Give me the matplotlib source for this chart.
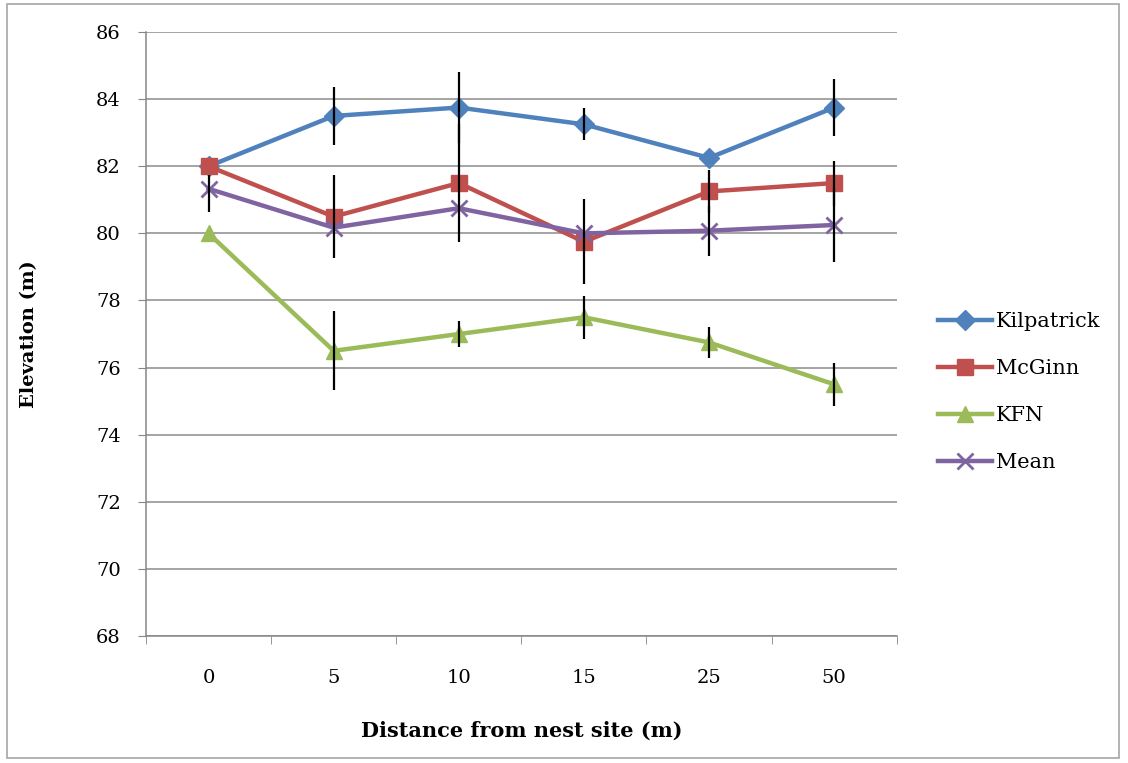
import numpy as np
import matplotlib
matplotlib.use('Agg')
import matplotlib.pyplot as plt
from matplotlib.patches import Rectangle

plt.rcParams['font.family'] = ['DejaVu Serif']

# distances (m) shown as categories
distances = ['0', '5', '10', '15', '25', '50']

kilpatrick = [82.0, 83.5, 83.75, 83.25, 82.25, 83.75]
mcginn = [82.0, 80.5, 81.5, 79.75, 81.25, 81.5]
kfn = [80.0, 76.5, 77.0, 77.5, 76.75, 75.5]
mean = [81.33, 80.17, 80.75, 80.0, 80.08, 80.25]

# error bar half-lengths
kilpatrick_err = [0, 0.87, 1.05, 0.48, 0, 0.86]
mcginn_err = [0, 1.23, 1.75, 1.27, 0.63, 0.67]
kfn_err = [0, 1.18, 0.4, 0.64, 0.47, 0.65]
mean_err_lo = [0.68, 0, 0, 0, 0.74, 1.1]
mean_err_hi = [0.4, 0, 0, 0, 0.74, 1.1]

fig = plt.figure(figsize=(11.28, 7.63), dpi=100)
ax = fig.add_axes([0.1294, 0.1664, 0.6656, 0.7916])

x = np.arange(len(distances))
series = [
    ('Kilpatrick', kilpatrick, '#4F81BD', 'D', 10, (kilpatrick_err, kilpatrick_err)),
    ('McGinn', mcginn, '#C0504D', 's', 11, (mcginn_err, mcginn_err)),
    ('KFN', kfn, '#9BBB59', '^', 12, (kfn_err, kfn_err)),
    ('Mean', mean, '#8064A2', 'x', 11, (mean_err_lo, mean_err_hi)),
]

for name, vals, col, mk, ms, err in series:
    ax.plot(x, vals, color=col, lw=3.2, marker=mk, ms=ms, mew=2 if mk == 'x' else 1,
            mec=col, mfc=col, label=name, zorder=3)

for name, vals, col, mk, ms, err in series:
    ax.errorbar(x, vals, yerr=[err[0], err[1]], fmt='none', ecolor='black',
                elinewidth=1.6, capsize=0, zorder=4)

ax.set_xlim(-0.5, len(distances) - 0.5)
ax.set_ylim(68, 86)
ax.set_yticks(np.arange(68, 87, 2))
ax.set_xticks(x)
ax.set_xticklabels(distances)
ax.set_xticks(np.arange(-0.5, len(distances), 1), minor=True)
ax.tick_params(axis='x', which='major', length=0, pad=24, labelsize=14)
ax.tick_params(axis='x', which='minor', length=6, color='#868686', direction='out')
ax.tick_params(axis='y', length=6, color='#868686', direction='out', labelsize=14, pad=12)

ax.grid(axis='y', color='#8c8c8c', lw=1.1, zorder=0)
ax.set_axisbelow(True)
for s in ['top', 'right']:
    ax.spines[s].set_visible(False)
for s in ['left', 'bottom']:
    ax.spines[s].set_color('#868686')
    ax.spines[s].set_linewidth(1.1)

ax.set_ylabel('Elevation (m)', fontsize=14, fontweight='bold', labelpad=42)
ax.set_xlabel('Distance from nest site (m)', fontsize=15, fontweight='bold', labelpad=24)

ax.legend(loc='center left', bbox_to_anchor=(1.03, 0.404), frameon=False, fontsize=15,
          handlelength=2.6, handletextpad=0.2, labelspacing=1.35)

# outer chart border
fig.patches.append(Rectangle((0.006, 0.007), 0.986, 0.988, transform=fig.transFigure,
                             fill=False, ec='#a6a6a6', lw=1.2))

fig.savefig('out.png', dpi=100)
